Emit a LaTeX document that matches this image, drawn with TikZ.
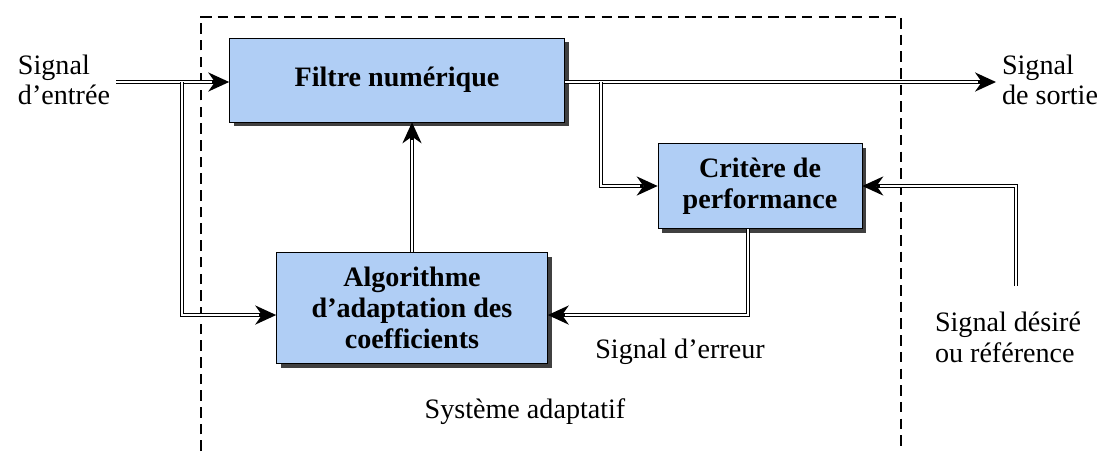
\documentclass[tikz,border=0pt]{standalone}
\usepackage{fontspec}
\setmainfont{Liberation Serif}
\newfontfamily\diagfont{Liberation Serif}
\usetikzlibrary{arrows.meta, shadows}

\definecolor{boxblue}{RGB}{176,206,245}

\begin{document}
\begin{tikzpicture}[
    x=0.02cm, y=-0.02cm,
    font=\diagfont\fontsize{16}{17.5}\selectfont,
    block/.style={
        draw=black,
        fill=boxblue,
        font=\diagfont\fontsize{16}{17.5}\selectfont\bfseries,
        align=center,
        inner sep=0pt,
        drop shadow={shadow xshift=2.5pt, shadow yshift=-2.5pt, fill=black!75, opacity=1}
    },
    label/.style={align=left, inner sep=0pt},
    dline/.style={
        draw=black, line width=2.6pt,
        -{Stealth[length=12pt,width=11pt,line width=0pt]},
        postaction={draw=white, line width=1.1pt, -, shorten >=10pt}
    }
]
    \useasboundingbox (0,0) rectangle (1115,451);

    % Adaptive system frame
    \draw[dashed, dash pattern=on 6pt off 3.5pt, line width=0.6pt]
        (201,451) -- (201,17) -- (901,17) -- (901,451);
    \node (sys) at (525,412) {Système adaptatif};

    % Blocks
    \node[block, minimum width=6.7cm, minimum height=1.68cm] (filt) at (397,80) {Filtre numérique};
    \node[block, minimum width=4.08cm, minimum height=1.7cm] (crit) at (760,186) {Critère de\\performance};
    \node[block, minimum width=5.42cm, minimum height=2.22cm] (algo) at (412,308) {Algorithme\\d’adaptation des\\coefficients};

    % Free ends and branch points
    \coordinate (in) at (116,82);
    \coordinate (split1) at (182,82);
    \coordinate (out) at (996,82);
    \coordinate (split2) at (601,82);
    \coordinate (ref) at (1016,286);

    % Texts
    \node[label] (inlab) at (64,80) {Signal\\d’entrée};
    \node[label] (outlab) at (1050,80) {Signal\\de sortie};
    \node[label] (reflab) at (1008,337) {Signal désiré\\ou référence};
    \node (errlab) at (680,352) {Signal d’erreur};

    % Connectors
    \draw[dline] (in) -- (in -| filt.west);
    \draw[dline] (split1) |- ([yshift=-4pt]algo.west);
    \draw[dline] (filt.east |- out) -- (out);
    \draw[dline] (split2) |- (crit.west);
    \draw[dline] (ref) |- (crit.east);
    \draw[dline] (crit.south -| 748,0) |- ([yshift=-4pt]algo.east);
    \draw[dline] (algo.north) -- (algo.north |- filt.south);

\end{tikzpicture}
\end{document}
